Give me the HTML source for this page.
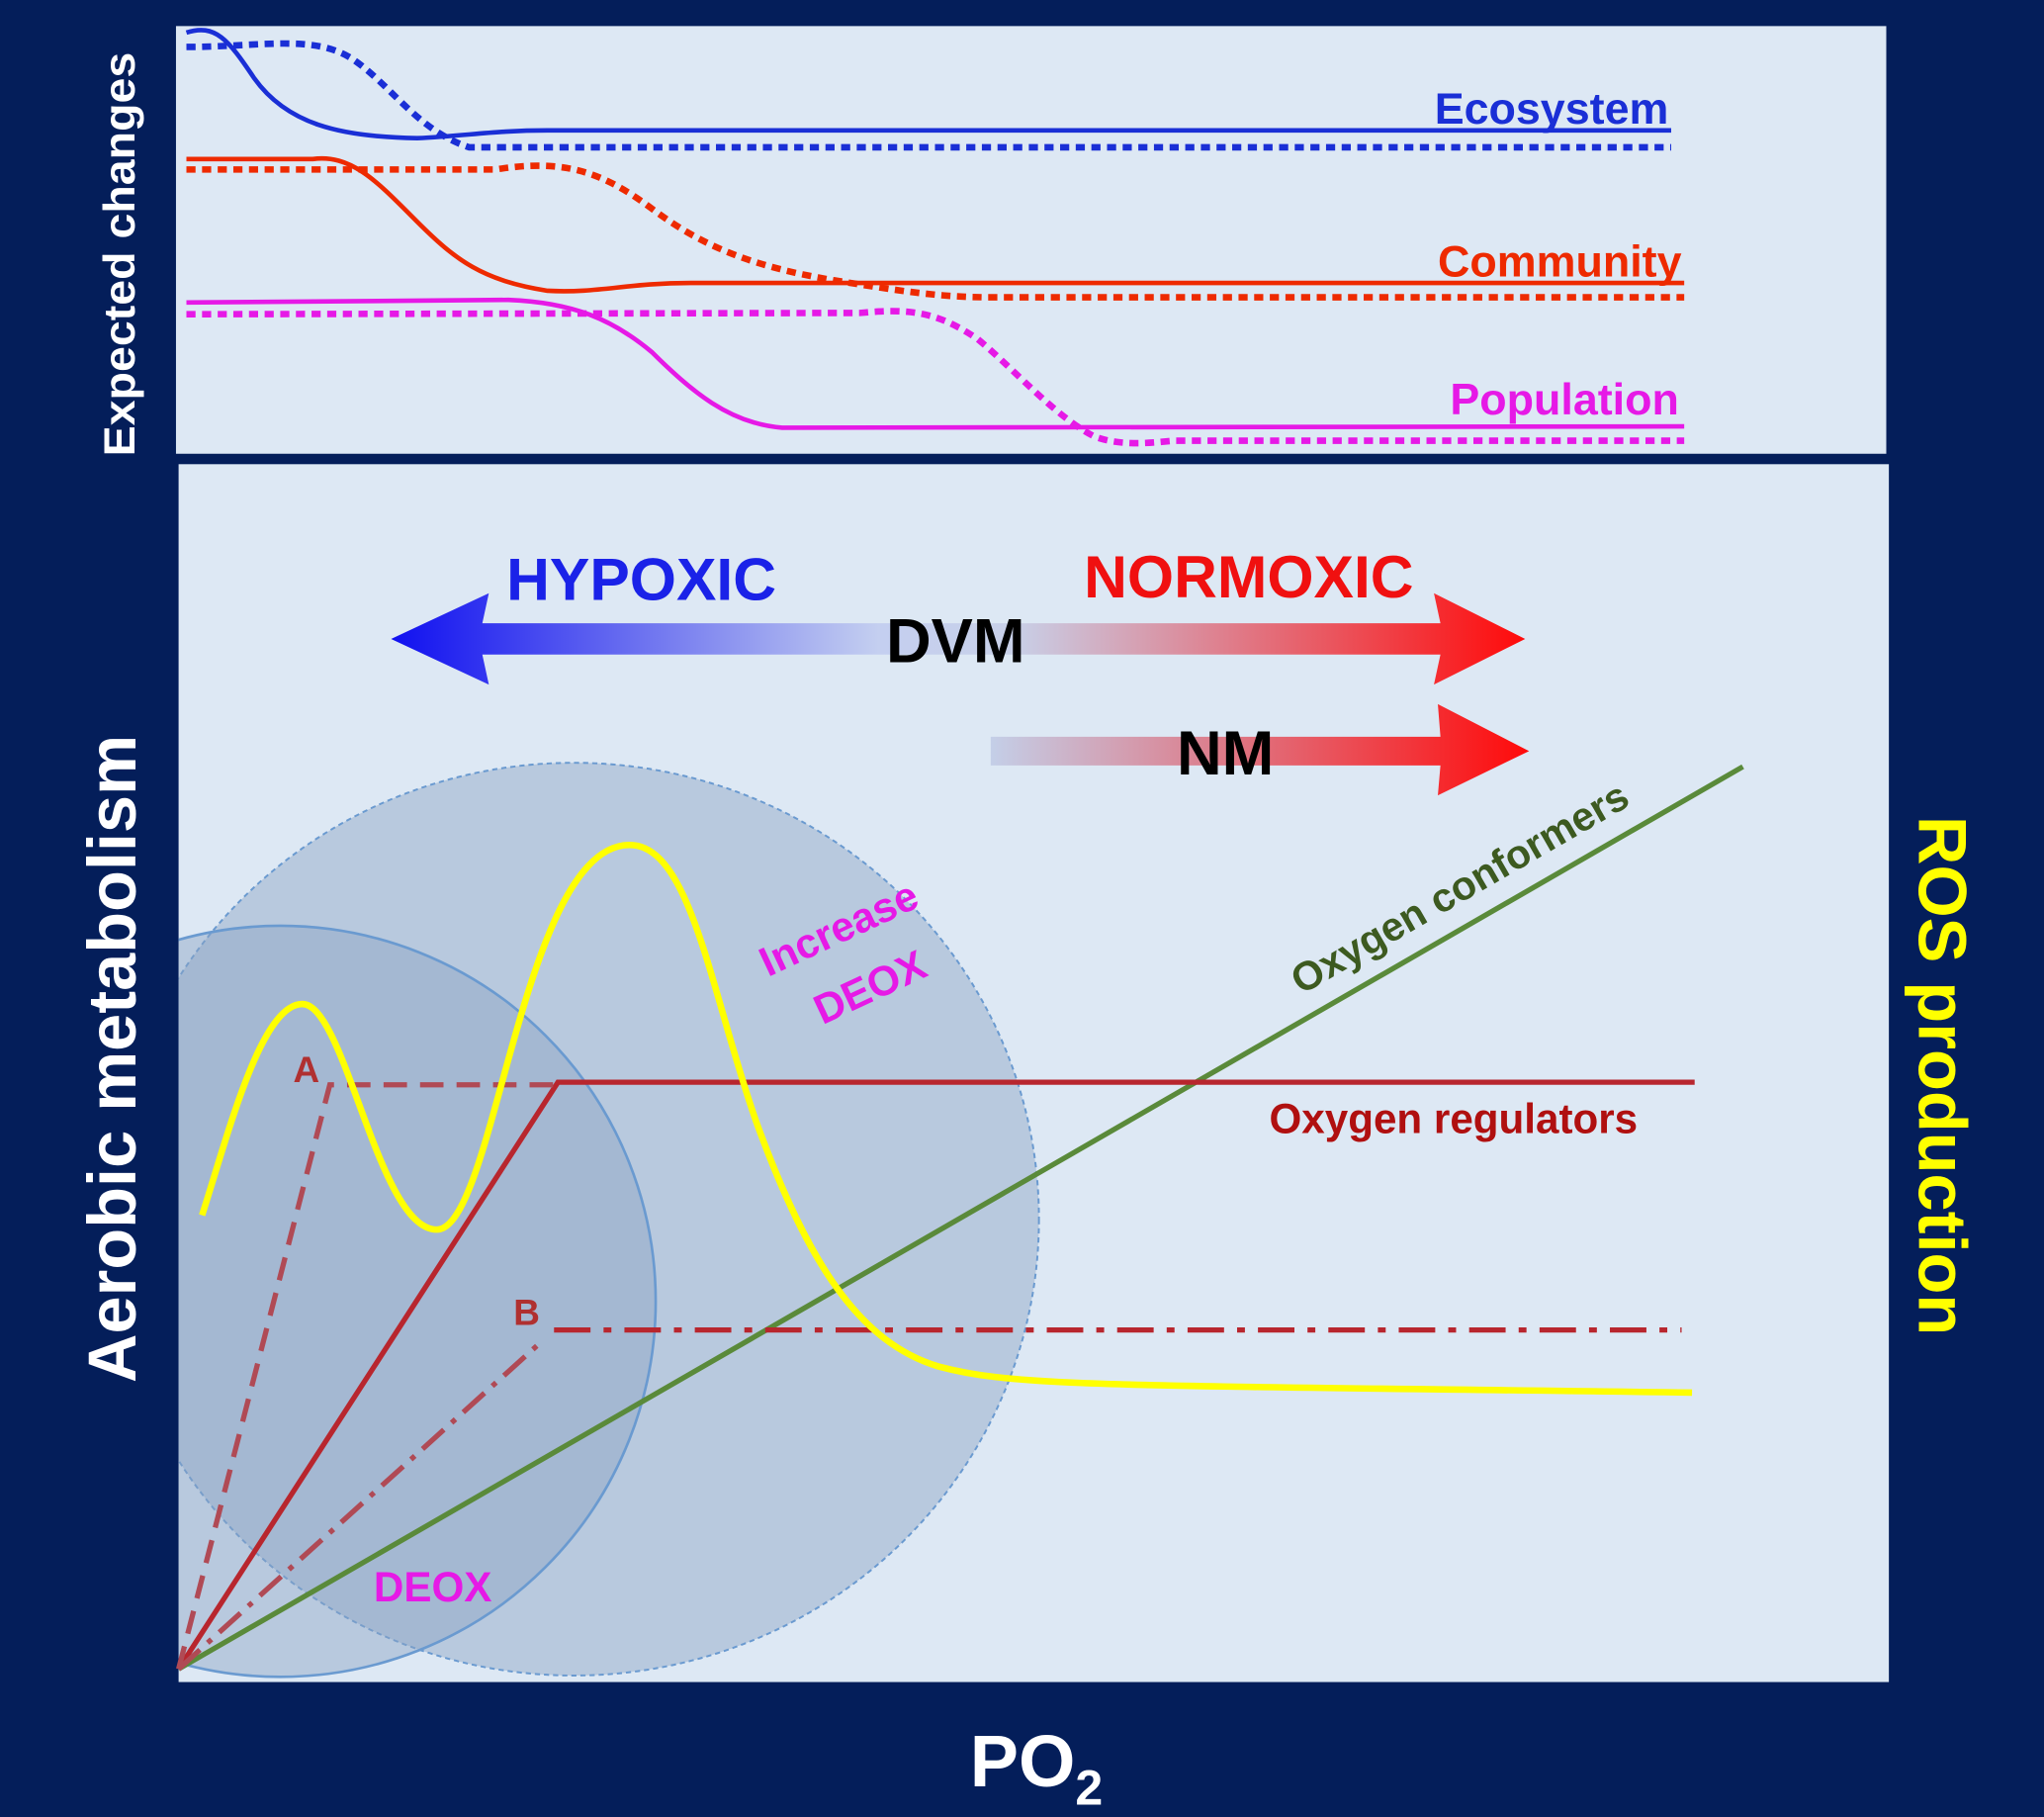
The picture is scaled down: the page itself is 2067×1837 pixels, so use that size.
<!DOCTYPE html>
<html><head><meta charset="utf-8"><style>
html,body{margin:0;padding:0;background:#041e5a;}
svg{display:block;}
text{font-family:"Liberation Sans",sans-serif;font-weight:bold;}
</style></head><body>
<svg width="2067" height="1837" viewBox="0 0 1568 1393.5" preserveAspectRatio="none" xmlns="http://www.w3.org/2000/svg">
<defs>
<linearGradient id="g1" x1="300" y1="0" x2="1170" y2="0" gradientUnits="userSpaceOnUse">
<stop offset="0" stop-color="#1010f0"/><stop offset="0.43" stop-color="#c4cff0"/><stop offset="0.55" stop-color="#c8d0e8"/><stop offset="1" stop-color="#ff0a0a"/>
</linearGradient>
<linearGradient id="g2" x1="760" y1="0" x2="1173" y2="0" gradientUnits="userSpaceOnUse">
<stop offset="0" stop-color="#c4cfe8"/><stop offset="1" stop-color="#ff0a0a"/>
</linearGradient>
<clipPath id="cp"><rect x="137" y="356" width="1312" height="934"/></clipPath>
</defs>
<rect width="1568" height="1394" fill="#041e5a"/>
<rect x="135" y="20" width="1312" height="328" fill="#dde8f4"/>
<rect x="137" y="356" width="1312" height="934" fill="#dde8f4"/>

<g fill="none" stroke-width="3.5">
<path d="M143,25 C165,18 175,30 195,60 C220,95 260,105 320,106 C360,104 380,100 420,100 L1282,100" stroke="#1a2fd6"/>
<path d="M143,36 C200,36 240,26 270,45 C300,65 320,100 360,113 L1282,113" stroke="#1a2fd6" stroke-dasharray="7,5" stroke-width="5"/>
<path d="M143,122 L240,122 C270,118 290,140 320,170 C350,200 370,215 420,223 C460,225 480,217 530,217 L1292,217" stroke="#ee2a00"/>
<path d="M143,130 L380,130 C430,122 460,130 500,160 C540,190 580,205 640,215 C690,223 720,228 760,228 L1292,228" stroke="#ee2a00" stroke-dasharray="7,5" stroke-width="5"/>
<path d="M143,232 L390,230 C440,232 470,245 500,270 C530,300 560,325 600,328 L1292,327" stroke="#e619e6"/>
<path d="M143,241 L660,240 C700,236 720,240 750,260 C780,285 810,320 840,335 C860,342 880,340 900,338 L1292,338" stroke="#e619e6" stroke-dasharray="7,5" stroke-width="5"/>
</g>
<text x="1280" y="95" text-anchor="end" font-size="34" fill="#1a2fd6">Ecosystem</text>
<text x="1290" y="212" text-anchor="end" font-size="34" fill="#ee2a00">Community</text>
<text x="1288" y="318" text-anchor="end" font-size="34" fill="#e619e6">Population</text>
<text transform="translate(103,195) rotate(-90)" text-anchor="middle" font-size="34" textLength="310" lengthAdjust="spacingAndGlyphs" fill="#fff">Expected changes</text>

<path d="M300,490 L375,455 L370,478 L1105,478 L1100,455 L1170,490 L1100,525 L1105,502 L370,502 L375,525 Z" fill="url(#g1)"/>
<path d="M760,565 L1105,565 L1103,540 L1173,576 L1103,610 L1105,587 L760,587 Z" fill="url(#g2)"/>
<text x="492" y="460" text-anchor="middle" font-size="46" fill="#1a22e8">HYPOXIC</text>
<text x="958" y="458" text-anchor="middle" font-size="46" fill="#f01010">NORMOXIC</text>
<text x="733" y="508" text-anchor="middle" font-size="48" fill="#000">DVM</text>
<text x="940" y="594" text-anchor="middle" font-size="48" fill="#000">NM</text>

<g clip-path="url(#cp)">
<ellipse cx="440" cy="935" rx="357" ry="350" fill="#8ca4c4" fill-opacity="0.45" stroke="#6a9ad0" stroke-width="1.5" stroke-dasharray="4,3"/>
<circle cx="215" cy="998" r="288" fill="#8ca4c4" fill-opacity="0.45" stroke="#6a9ad0" stroke-width="2"/>
</g>

<line x1="137" y1="1280" x2="1337" y2="588" stroke="#5a8a3a" stroke-width="4"/>
<text transform="translate(1125,690) rotate(-30)" text-anchor="middle" font-size="31" fill="#3d5a20">Oxygen conformers</text>

<g fill="none" stroke="#c0303a" stroke-width="4">
<path d="M137,1280 L428,830 L1300,830" stroke="#b8262e"/>
<path d="M137,1280 L253,832 L428,832" stroke-dasharray="18,10" stroke="#b04a55"/>
<path d="M137,1280 L412,1032" stroke-dasharray="22,8,4,8" stroke="#b04a55"/>
<path d="M425,1020 L1290,1020" stroke-dasharray="28,10,6,10" stroke="#b8262e"/>
</g>
<text x="235" y="830" text-anchor="middle" font-size="28" fill="#b03030" font-weight="normal">A</text>
<text x="404" y="1016" text-anchor="middle" font-size="28" fill="#b03030" font-weight="normal">B</text>
<text x="1115" y="869" text-anchor="middle" font-size="32" fill="#b01010">Oxygen regulators</text>

<path d="M155,932 C175,870 200,770 232,770 C265,770 290,943 335,943 C380,943 400,648 483,648 C530,648 545,760 580,860 C620,970 660,1030 720,1048 C780,1064 850,1062 1298,1068" fill="none" stroke="#ffff00" stroke-width="5"/>

<text transform="translate(648,722) rotate(-25)" text-anchor="middle" font-size="32" fill="#e619e6" font-weight="normal">Increase</text>
<text transform="translate(672,767) rotate(-25)" text-anchor="middle" font-size="32" fill="#e619e6" font-weight="normal">DEOX</text>
<text x="332" y="1228" text-anchor="middle" font-size="32" fill="#e619e6">DEOX</text>

<text transform="translate(104,812) rotate(-90)" text-anchor="middle" font-size="52" fill="#fff">Aerobic metabolism</text>
<text transform="translate(1472,825) rotate(90)" text-anchor="middle" font-size="52" fill="#ffff00">ROS production</text>
<text x="795" y="1370" text-anchor="middle" font-size="56" fill="#fff">PO<tspan font-size="38" dy="14">2</tspan></text>
</svg>
</body></html>
